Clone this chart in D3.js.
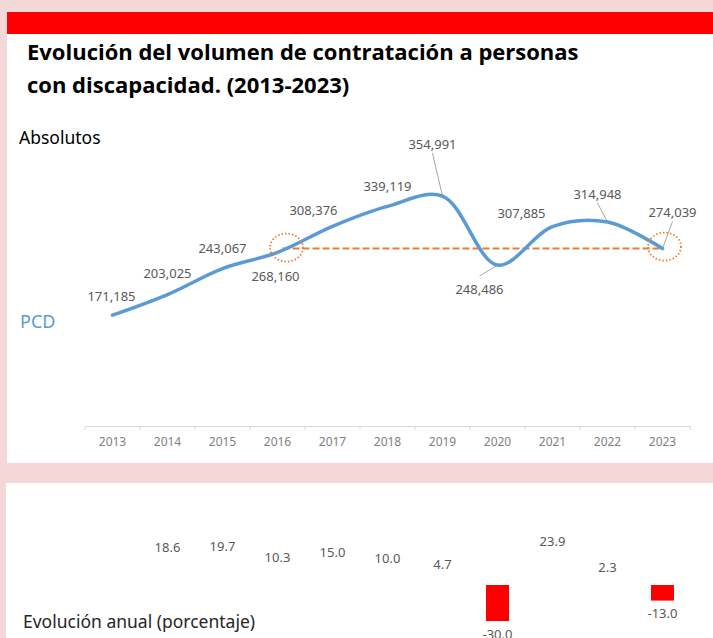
<!DOCTYPE html>
<html>
<head>
  <meta charset="utf-8">
  <script src="https://cdnjs.cloudflare.com/ajax/libs/d3/7.8.5/d3.min.js"></script>
  <style>
    body { margin: 0; background: #f4d7d7; }
    svg { display: block; }
  </style>
</head>
<body>
<svg id="chart"></svg>
<script>
  var w = 713;
  var h = 638;

  // data
  var years = [2013, 2014, 2015, 2016, 2017, 2018, 2019, 2020, 2021, 2022, 2023];
  var pcd = [171185, 203025, 243067, 268160, 308376, 339119, 354991, 248486, 307885, 314948, 274039];
  var growth = [null, 18.6, 19.7, 10.3, 15.0, 10.0, 4.7, -30.0, 23.9, 2.3, -13.0];

  // hand placed data labels (dx, dy from the point) and which have leader lines
  var labelNudge = [[-1,-19],[0,-21],[0,-20],[-2,24],[-19,-16],[0,-20],[-10,-52],[-18,24],[-31,-13],[-10,-28],[10,-36]];
  var leader = [false,false,false,false,false,false,true,true,false,true,true];

  var svg = d3.select("#chart").attr("width", w).attr("height", h);

  // panels
  svg.append("rect").attr("x", 0).attr("y", 0).attr("width", w).attr("height", h).attr("fill", "#f4d7d7");
  svg.append("rect").attr("x", 7).attr("y", 12).attr("width", w-7).attr("height", 451).attr("fill", "#fff");
  svg.append("rect").attr("x", 7).attr("y", 12).attr("width", w-7).attr("height", 22).attr("fill", "#ff0000");
  svg.append("rect").attr("x", 6).attr("y", 483).attr("width", w-6).attr("height", 155).attr("fill", "#fff");

  // title
  var title = svg.append("text")
    .attr("font-family", "'Open Sans', sans-serif").attr("font-size", "22px")
    .attr("font-weight", "700").attr("fill", "#000");
  title.append("tspan").attr("x", 27).attr("y", 60).text("Evolución del volumen de contratación a personas");
  title.append("tspan").attr("x", 27).attr("y", 93).text("con discapacidad. (2013-2023)");

  svg.append("text").attr("x", 19).attr("y", 144).text("Absolutos")
    .attr("font-family", "'Noto Sans', sans-serif").attr("font-size", "17.5px").attr("fill", "#000");
  svg.append("text").attr("x", 20).attr("y", 328).text("PCD")
    .attr("font-family", "'Noto Sans', sans-serif").attr("font-size", "18px").attr("fill", "#5b9bd5");

  // scales
  var xScale = d3.scaleBand().domain(years).range([85, 690]);
  var xc = function(yr) { return xScale(yr) + xScale.bandwidth()/2; };
  var yScale = d3.scaleLinear().domain([0, 400000]).range([426, 167]);

  // x axis
  var xAxis = d3.axisBottom(xScale).tickSize(0).tickPadding(11);
  var gx = svg.append("g").attr("transform", "translate(0,426)").call(xAxis);
  gx.select(".domain").attr("stroke", "#d9d9d9");
  gx.selectAll("text").attr("font-family", "'Noto Sans', sans-serif").attr("font-size", "12px").attr("fill", "#7f7f7f");
  gx.selectAll(".bound").data(d3.range(years.length + 1)).enter().append("line")
    .attr("x1", function(i) { return 85 + i*xScale.step(); })
    .attr("x2", function(i) { return 85 + i*xScale.step(); })
    .attr("y1", 0).attr("y2", 4).attr("stroke", "#d9d9d9");

  var pts = years.map(function(yr, i) { return [xc(yr), yScale(pcd[i])]; });

  // reference line 2016 -> 2023
  var refY = yScale(pcd[10]);
  svg.append("line").attr("x1", xc(2016) + 5).attr("x2", xc(2023)).attr("y1", refY).attr("y2", refY)
    .attr("stroke", "#ed7d31").attr("stroke-width", 2).attr("stroke-dasharray", "7,3");

  // leader lines
  svg.selectAll(".leader").data(pts).enter().filter(function(d, i) { return leader[i]; })
    .append("line")
    .attr("x1", function(d) { return d[0]; }).attr("y1", function(d) { return d[1]; })
    .attr("x2", function(d) { var i = pts.indexOf(d); return d[0] + labelNudge[i][0]; })
    .attr("y2", function(d) { var i = pts.indexOf(d); var dy = labelNudge[i][1]; return d[1] + dy + (dy < 0 ? 9 : -13); })
    .attr("stroke", "#a6a6a6").attr("stroke-width", 1);

  // the line
  svg.append("path").datum(pts)
    .attr("d", d3.line().curve(d3.curveCatmullRom.alpha(0.5)))
    .attr("fill", "none").attr("stroke", "#5b9bd5").attr("stroke-width", 3.5).attr("stroke-linecap", "round");

  // dotted circles
  [[xc(2016) + 9, refY - 1], [xc(2023) + 2, refY - 2]].forEach(function(c) {
    svg.append("ellipse").attr("cx", c[0]).attr("cy", c[1]).attr("rx", 16.5).attr("ry", 14)
      .attr("fill", "none").attr("stroke", "#ed7d31").attr("stroke-width", 1.8)
      .attr("stroke-dasharray", "1.5,2");
  });

  // data labels
  svg.selectAll(".lbl").data(pts).enter().append("text")
    .attr("x", function(d, i) { return d[0] + labelNudge[i][0]; })
    .attr("y", function(d, i) { return d[1] + labelNudge[i][1]; })
    .attr("dy", "0.35em").attr("text-anchor", "middle")
    .attr("font-family", "'Noto Sans', sans-serif").attr("font-size", "13px").attr("fill", "#595959")
    .text(function(d, i) { return d3.format(",")(pcd[i]); });

  // bottom panel: annual growth
  var yB = d3.scaleLinear().domain([-30, 30]).range([621, 549]);
  var gdata = years.map(function(yr, i) { return {year: yr, v: growth[i]}; })
    .filter(function(d) { return d.v !== null; });
  var bw = 23;

  svg.selectAll(".bar").data(gdata).enter().append("rect")
    .attr("x", function(d) { return xc(d.year) - bw/2; })
    .attr("y", function(d) { return yB(Math.max(0, d.v)); })
    .attr("width", bw)
    .attr("height", function(d) { return Math.abs(yB(d.v) - yB(0)); })
    .attr("fill", function(d) { return d.v < 0 ? "#ff0000" : "#ffffff"; });

  svg.selectAll(".glbl").data(gdata).enter().append("text")
    .attr("x", function(d) { return xc(d.year); })
    .attr("y", function(d) { return d.v < 0 ? yB(d.v) + 13 : yB(d.v) - 15; })
    .attr("dy", "0.35em").attr("text-anchor", "middle")
    .attr("font-family", "'Noto Sans', sans-serif").attr("font-size", "13px").attr("fill", "#595959")
    .text(function(d) { return d.v.toFixed(1); });

  svg.append("text").attr("x", 23).attr("y", 628).text("Evolución anual (porcentaje)")
    .attr("font-family", "'Noto Sans', sans-serif").attr("font-size", "17.5px").attr("fill", "#262626");
</script>
</body>
</html>
